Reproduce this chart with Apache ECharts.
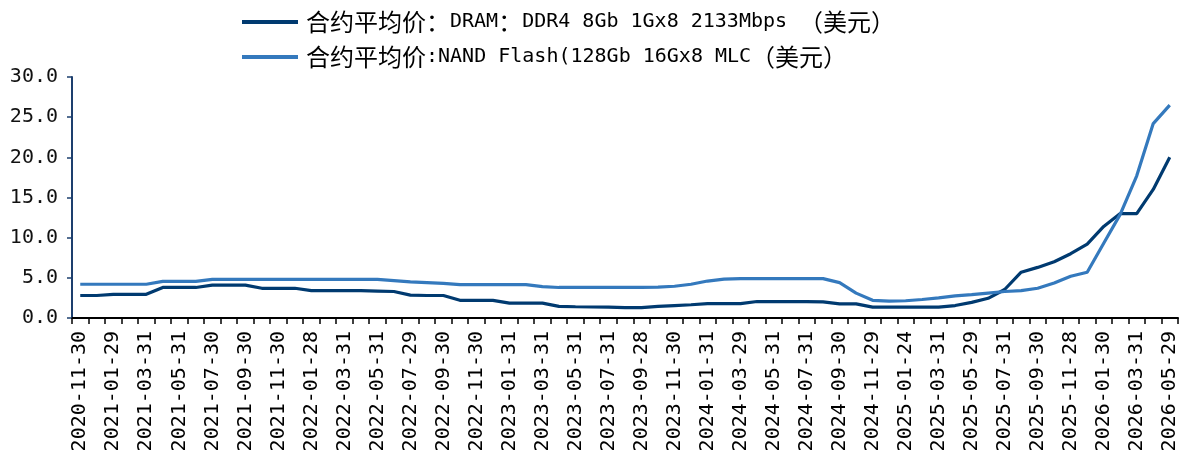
<!DOCTYPE html>
<html>
<head>
<meta charset="utf-8">
<script src="https://cdn.jsdelivr.net/npm/echarts@6/dist/echarts.min.js"></script>
<style>
  html, body { margin: 0; padding: 0; background: #fff; }
  #main { width: 1182px; height: 455px; }
</style>
</head>
<body>
<div id="main"></div>
<script>
// month-end dates, one point per month
const dates = [
  '2020-11-30', '2020-12-31',
  '2021-01-29', '2021-02-26', '2021-03-31', '2021-04-30', '2021-05-31', '2021-06-30',
  '2021-07-30', '2021-08-31', '2021-09-30', '2021-10-29', '2021-11-30', '2021-12-31',
  '2022-01-28', '2022-02-28', '2022-03-31', '2022-04-29', '2022-05-31', '2022-06-30',
  '2022-07-29', '2022-08-31', '2022-09-30', '2022-10-31', '2022-11-30', '2022-12-30',
  '2023-01-31', '2023-02-28', '2023-03-31', '2023-04-28', '2023-05-31', '2023-06-30',
  '2023-07-31', '2023-08-31', '2023-09-28', '2023-10-31', '2023-11-30', '2023-12-29',
  '2024-01-31', '2024-02-29', '2024-03-29', '2024-04-30', '2024-05-31', '2024-06-28',
  '2024-07-31', '2024-08-30', '2024-09-30', '2024-10-31', '2024-11-29', '2024-12-31',
  '2025-01-24', '2025-02-28', '2025-03-31', '2025-04-30', '2025-05-29', '2025-06-30',
  '2025-07-31', '2025-08-29', '2025-09-30', '2025-10-31', '2025-11-28', '2025-12-31',
  '2026-01-30', '2026-02-27', '2026-03-31', '2026-04-30', '2026-05-29'
];

const dramName = '合约平均价：DRAM：DDR4 8Gb 1Gx8 2133Mbps （美元）';
const nandName = '合约平均价:NAND Flash(128Gb 16Gx8 MLC（美元）';

const dramPrice = [
  2.8, 2.8, 2.95, 2.95, 2.95, 3.8, 3.8, 3.8, 4.1, 4.1, 4.1, 3.7, 3.7, 3.7,
  3.4, 3.4, 3.4, 3.4, 3.35, 3.3, 2.85, 2.8, 2.8, 2.2, 2.2, 2.2,
  1.85, 1.85, 1.85, 1.45, 1.4, 1.37, 1.35, 1.3, 1.3, 1.45, 1.55, 1.65,
  1.8, 1.8, 1.8, 2.05, 2.05, 2.05, 2.05, 2.0, 1.75, 1.75, 1.35, 1.35,
  1.35, 1.35, 1.35, 1.55, 1.95, 2.45, 3.55, 5.7, 6.3, 7.0, 8.0, 9.2,
  11.4, 13.0, 13.0, 16.0, 20.0
];

const nandPrice = [
  4.2, 4.2, 4.2, 4.2, 4.2, 4.55, 4.55, 4.55, 4.8, 4.8, 4.8, 4.8, 4.8, 4.8,
  4.8, 4.8, 4.8, 4.8, 4.8, 4.65, 4.5, 4.4, 4.3, 4.15, 4.15, 4.15,
  4.15, 4.15, 3.9, 3.8, 3.8, 3.8, 3.8, 3.8, 3.8, 3.85, 3.95, 4.2,
  4.6, 4.85, 4.9, 4.9, 4.9, 4.9, 4.9, 4.9, 4.4, 3.1, 2.2, 2.1,
  2.15, 2.3, 2.5, 2.75, 2.9, 3.1, 3.3, 3.4, 3.7, 4.35, 5.2, 5.7,
  9.3, 12.9, 17.7, 24.2, 26.5
];

const yTicks = [0, 5, 10, 15, 20, 25, 30];

const monoFont = "'DejaVu Sans Mono', 'Noto Sans CJK SC', monospace";

// split a legend name into CJK / latin runs for rich text
function richName(name) {
  return name.replace(/([\u3000-\uffff]+)|([^\u3000-\uffff]+)/g, function (m, cjk) {
    return cjk ? '{c|' + m + '}' : '{l|' + m + '}';
  });
}

const myChart = echarts.init(document.getElementById('main'));

const option = {
  animation: false,
  color: ['#003a70', '#3479bd'],
  legend: {
    orient: 'vertical',
    left: 242,
    top: 10,
    padding: 0,
    itemWidth: 56,
    itemHeight: 4,
    itemGap: 11,
    icon: 'rect',
    data: [dramName, nandName],
    formatter: richName,
    textStyle: {
      color: '#000',
      padding: [0, 0, 0, 3],
      rich: {
        c: { fontFamily: "'Noto Sans CJK SC'", fontSize: 24, lineHeight: 26, color: '#000' },
        l: { fontFamily: "'DejaVu Sans Mono'", fontSize: 20, lineHeight: 26, color: '#000' }
      }
    }
  },
  grid: {
    left: 72,
    right: 4,
    top: 77,
    bottom: 137,
    containLabel: false
  },
  xAxis: {
    type: 'category',
    data: dates,
    boundaryGap: true,
    axisLine: { lineStyle: { color: '#000', width: 2 } },
    axisTick: {
      show: true,
      interval: 0,
      length: 6,
      lineStyle: { color: '#000', width: 1.5 }
    },
    axisLabel: {
      interval: 1,
      rotate: 90,
      margin: 13,
      color: '#000',
      fontFamily: monoFont,
      fontSize: 20
    },
    splitLine: { show: false }
  },
  yAxis: {
    type: 'value',
    min: yTicks[0],
    max: yTicks[yTicks.length - 1],
    interval: 5,
    axisLine: { show: true, lineStyle: { color: '#1d3f6e', width: 2 } },
    axisTick: { show: true, length: 5, lineStyle: { color: '#1d3f6e', width: 1.5 } },
    axisLabel: {
      margin: 14,
      color: '#111',
      fontFamily: monoFont,
      fontSize: 20,
      formatter: function (v) { return v.toFixed(1); }
    },
    splitLine: { show: false }
  },
  series: [
    {
      name: dramName,
      type: 'line',
      data: dramPrice,
      symbol: 'none',
      lineStyle: { width: 3.2 }
    },
    {
      name: nandName,
      type: 'line',
      data: nandPrice,
      symbol: 'none',
      lineStyle: { width: 3.2 }
    }
  ]
};

myChart.setOption(option);
</script>
</body>
</html>
